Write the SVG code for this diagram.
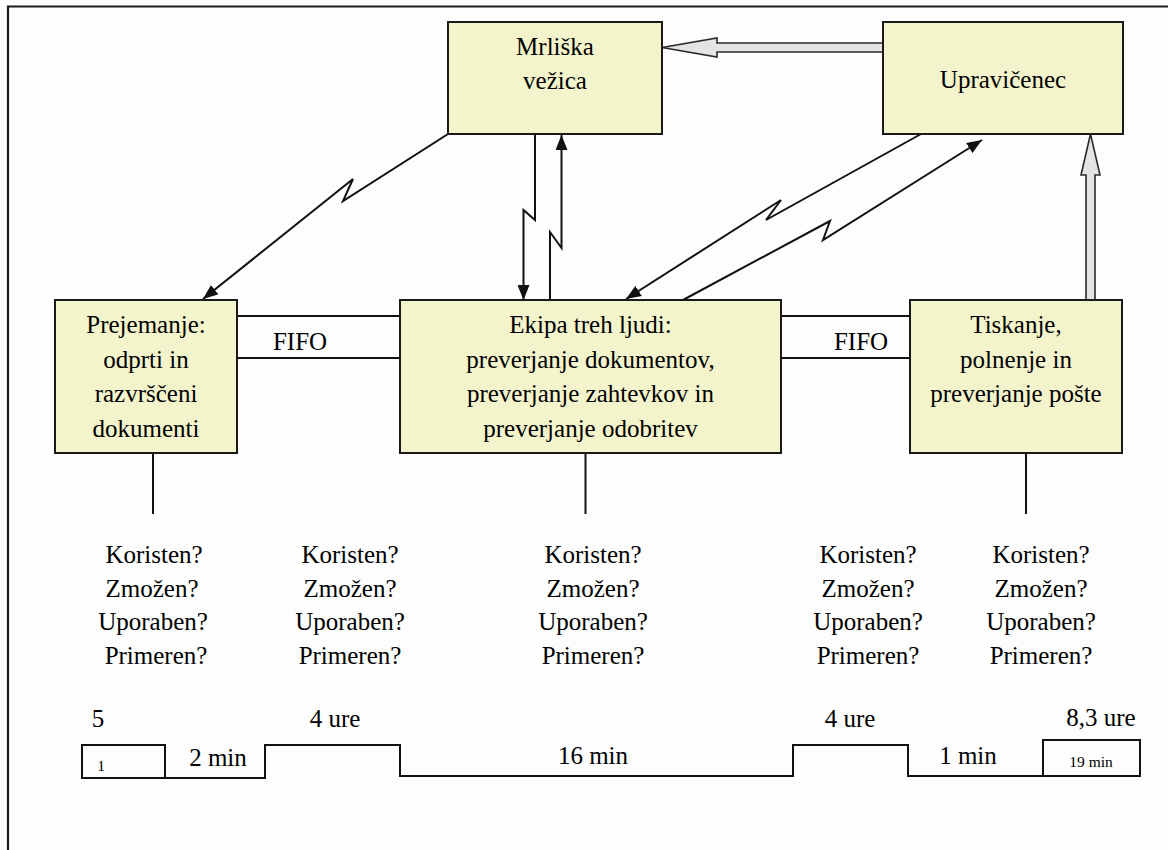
<svg xmlns="http://www.w3.org/2000/svg" width="1168" height="850" viewBox="0 0 1168 850" font-family="'Liberation Serif', 'Times New Roman', Times, serif">
<style>
text{font-family:"Liberation Serif","Times New Roman",Times,serif;fill:#000;text-anchor:middle}
.t{font-size:25px}
.s{font-size:15.5px}
.box{fill:#f4f4cc;stroke:#1a1a1a;stroke-width:2}
.ln{fill:none;stroke:#111;stroke-width:2}
.gr{fill:#e4e4e4;stroke:#2a2a2a;stroke-width:1.6;stroke-linejoin:miter}
</style>
<defs>
<marker id="ah" markerWidth="16" markerHeight="12" refX="15" refY="6" orient="auto" markerUnits="userSpaceOnUse">
<path d="M0,0 L15,6 L0,12 z" fill="#111"/>
</marker>
</defs>
<rect width="1168" height="850" fill="#fdfdfd"/>
<path d="M8,852 V6.5 H1170" fill="none" stroke="#1a1a1a" stroke-width="2.2"/>

<g id="connectors">
<polygon class="gr" points="662,47.5 717,38 717,43 883,43 883,52 717,52 717,57"/>
<polygon class="gr" points="1090.5,134 1100,175 1095,175 1095,300 1086,300 1086,175 1081,175"/>
<path class="ln" d="M448,134 L343,201 L353,179 L203,299" marker-end="url(#ah)"/>
<path class="ln" d="M535,134 V220 L523.5,210 V300" marker-end="url(#ah)"/>
<path class="ln" d="M550,300 V232 L561.5,248 V135" marker-end="url(#ah)"/>
<path class="ln" d="M921,134 L766,220 L781,200 L626,299" marker-end="url(#ah)"/>
<path class="ln" d="M683,300 L830,221 L823,240 L982,140" marker-end="url(#ah)"/>
<path class="ln" d="M237,316 H400 M237,358 H400"/>
<path class="ln" d="M781,316 H910 M781,358 H910"/>
<path class="ln" d="M153,453 V514 M585.5,453 V514 M1026,453 V514"/>
</g>
<text class="t" x="300" y="350">FIFO</text>
<text class="t" x="861" y="350">FIFO</text>

<g id="mrliska">
<rect class="box" x="448" y="22" width="214" height="112"/>
<text class="t" x="555" y="55">Mrliška</text>
<text class="t" x="555" y="89">vežica</text>
</g>
<g id="upravicenec">
<rect class="box" x="883" y="22" width="240" height="112"/>
<text class="t" x="1003" y="88">Upravičenec</text>
</g>
<g id="prejemanje">
<rect class="box" x="55" y="300" width="182" height="153"/>
<text class="t" x="146" y="333">Prejemanje:</text>
<text class="t" x="146" y="367.5">odprti in</text>
<text class="t" x="146" y="402">razvrščeni</text>
<text class="t" x="146" y="436.5">dokumenti</text>
</g>
<g id="ekipa">
<rect class="box" x="400" y="300" width="381" height="153"/>
<text class="t" x="590.5" y="333">Ekipa treh ljudi:</text>
<text class="t" x="590.5" y="367.5">preverjanje dokumentov,</text>
<text class="t" x="590.5" y="402">preverjanje zahtevkov in</text>
<text class="t" x="590.5" y="436.5">preverjanje odobritev</text>
</g>
<g id="tiskanje">
<rect class="box" x="910" y="300" width="212" height="153"/>
<text class="t" x="1016" y="333">Tiskanje,</text>
<text class="t" x="1016" y="367.5">polnenje in</text>
<text class="t" x="1016" y="402">preverjanje pošte</text>
</g>

<g id="questions">
<g id="q1">
<text class="t" x="154" y="563">Koristen?</text><text class="t" x="152" y="597">Zmožen?</text><text class="t" x="153" y="630">Uporaben?</text><text class="t" x="156" y="664">Primeren?</text>
</g>
<g id="q2">
<text class="t" x="350" y="563">Koristen?</text><text class="t" x="350" y="597">Zmožen?</text><text class="t" x="350" y="630">Uporaben?</text><text class="t" x="350" y="664">Primeren?</text>
</g>
<g id="q3">
<text class="t" x="593" y="563">Koristen?</text><text class="t" x="593" y="597">Zmožen?</text><text class="t" x="593" y="630">Uporaben?</text><text class="t" x="593" y="664">Primeren?</text>
</g>
<g id="q4">
<text class="t" x="868" y="563">Koristen?</text><text class="t" x="868" y="597">Zmožen?</text><text class="t" x="868" y="630">Uporaben?</text><text class="t" x="868" y="664">Primeren?</text>
</g>
<g id="q5">
<text class="t" x="1041" y="563">Koristen?</text><text class="t" x="1041" y="597">Zmožen?</text><text class="t" x="1041" y="630">Uporaben?</text><text class="t" x="1041" y="664">Primeren?</text>
</g>
</g>

<g id="timeline">
<rect x="82" y="745" width="83" height="33" fill="none" stroke="#111" stroke-width="2"/>
<path class="ln" d="M165,778 H265 V745 H400 V776 H793 V745 H908 V776 H1043"/>
<rect x="1043" y="740" width="97" height="36" fill="none" stroke="#111" stroke-width="2"/>
<text class="t" x="98" y="727">5</text>
<text class="s" x="101" y="771">1</text>
<text class="t" x="218" y="766">2 min</text>
<text class="t" x="335" y="727">4 ure</text>
<text class="t" x="593" y="764">16 min</text>
<text class="t" x="850" y="727">4 ure</text>
<text class="t" x="968" y="764">1 min</text>
<text class="t" x="1101" y="726">8,3 ure</text>
<text class="s" x="1091" y="767">19 min</text>
</g>
</svg>
